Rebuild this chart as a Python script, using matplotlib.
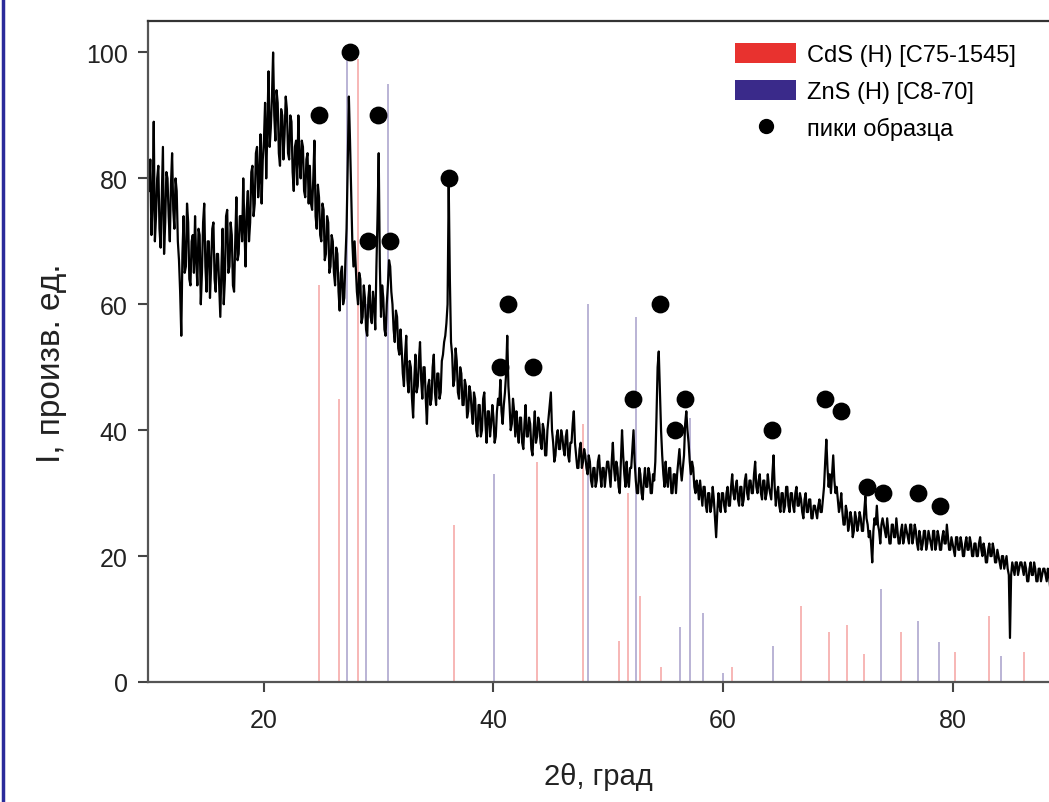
import numpy as np
import matplotlib.pyplot as plt
from matplotlib.patches import Patch
from matplotlib.lines import Line2D

plt.rcParams['font.family'] = ['Liberation Sans', 'DejaVu Sans']

# measured pattern, 2theta from 10.0 with 0.1 deg step (20 values per row = 2 deg)
two_theta_start = 10.0
two_theta_step = 0.1
intensity = [
    78, 83, 71, 76, 89, 70, 74, 80, 82, 72, 69, 77, 85, 68, 73, 81, 80, 74, 70, 79,
    84, 75, 72, 80, 78, 70, 67, 62, 55, 68, 74, 65, 66, 76, 73, 64, 63, 70, 71, 65,
    74, 67, 63, 72, 71, 60, 65, 73, 76, 66, 62, 70, 70, 61, 66, 72, 73, 64, 62, 68,
    68, 63, 58, 66, 72, 60, 64, 74, 75, 65, 66, 73, 71, 63, 62, 70, 77, 67, 68, 74,
    74, 70, 80, 72, 66, 75, 78, 70, 73, 81, 82, 74, 76, 84, 85, 77, 80, 87, 76, 83,
    86, 92, 80, 88, 97, 85, 88, 93, 100, 90, 86, 94, 92, 84, 82, 91, 90, 83, 87, 93,
    91, 84, 83, 90, 89, 81, 78, 85, 86, 79, 90, 83, 80, 86, 85, 78, 77, 83, 84, 76,
    82, 76, 75, 80, 86, 74, 72, 79, 77, 71, 70, 76, 75, 67, 68, 74, 73, 65, 66, 71,
    70, 65, 63, 69, 68, 62, 59, 65, 66, 60, 61, 67, 72, 82, 93, 86, 78, 70, 66, 70,
    66, 62, 60, 65, 64, 57, 58, 63, 61, 56, 55, 61, 63, 58, 57, 62, 60, 56, 66, 74,
    84, 66, 58, 63, 61, 56, 55, 60, 63, 67, 66, 62, 60, 56, 54, 59, 58, 53, 52, 56,
    53, 49, 47, 52, 55, 48, 46, 51, 50, 45, 42, 48, 52, 46, 47, 51, 54, 48, 45, 50,
    50, 45, 41, 47, 48, 44, 45, 50, 52, 46, 44, 49, 49, 45, 46, 51, 52, 54, 55, 57,
    60, 79, 64, 54, 52, 47, 48, 53, 51, 46, 45, 50, 49, 44, 44, 48, 47, 42, 43, 47,
    46, 43, 41, 46, 45, 40, 39, 44, 44, 39, 40, 45, 46, 41, 38, 43, 43, 39, 41, 44,
    42, 38, 39, 43, 45, 44, 48, 43, 41, 44, 46, 49, 55, 47, 44, 40, 41, 45, 43, 39,
    43, 40, 38, 42, 42, 38, 37, 41, 44, 39, 39, 42, 41, 37, 36, 40, 43, 38, 39, 42,
    41, 38, 37, 41, 40, 36, 36, 40, 42, 44, 46, 40, 38, 35, 36, 39, 40, 37, 37, 40,
    39, 37, 36, 39, 40, 36, 35, 38, 38, 41, 43, 38, 36, 34, 34, 37, 38, 34, 35, 37,
    36, 34, 33, 36, 35, 32, 31, 34, 34, 31, 32, 35, 36, 33, 31, 34, 34, 31, 33, 35,
    35, 33, 31, 35, 38, 34, 32, 35, 34, 31, 30, 35, 40, 36, 33, 31, 35, 32, 31, 34,
    34, 37, 40, 35, 32, 30, 30, 34, 33, 30, 29, 32, 34, 31, 31, 34, 33, 30, 30, 33,
    32, 35, 42, 50, 52.5, 46, 40, 36, 33, 31, 35, 32, 31, 34, 34, 30, 30, 33, 33, 30,
    33, 35, 37, 34, 32, 34, 36, 41, 43, 40, 38, 35, 33, 35, 34, 31, 30, 32, 31, 29,
    32, 30, 28, 31, 31, 28, 27, 30, 30, 27, 28, 31, 29, 26, 23, 27, 30, 28, 27, 30,
    30, 28, 27, 30, 31, 28, 28, 31, 33, 30, 29, 31, 32, 29, 28, 31, 31, 28, 29, 32,
    33, 30, 29, 32, 32, 30, 30, 33, 35, 31, 30, 32, 33, 30, 29, 32, 32, 29, 30, 33,
    31, 30, 29, 33, 36, 31, 28, 30, 31, 28, 27, 30, 30, 27, 28, 31, 31, 28, 27, 30,
    30, 28, 27, 30, 31, 28, 28, 30, 29, 27, 26, 29, 30, 27, 27, 29, 29, 26, 26, 28,
    28, 27, 26, 28, 29, 27, 27, 29, 31, 35, 38.5, 34, 31, 33, 30, 33, 36, 32, 30, 31,
    29, 27, 28, 30, 27, 25, 25, 28, 27, 24, 25, 27, 26, 23, 24, 27, 26, 24, 25, 27,
    26, 24, 24, 27, 29.5, 26, 25, 23, 24, 22, 19, 24, 26, 25, 28, 25, 24, 22, 25, 26,
    25, 24, 23, 26, 24, 22, 22, 25, 25, 23, 23, 26, 24, 22, 22, 24, 25, 22, 23, 25,
    24, 23, 22, 25, 25, 22, 23, 25, 24, 22, 21, 24, 23, 21, 22, 24, 24, 21, 22, 24,
    23, 22, 21, 24, 24, 21, 22, 24, 23, 21, 21, 23, 24, 22, 22, 25, 23, 21, 21, 23,
    22, 21, 20, 23, 23, 21, 21, 23, 22, 20, 20, 22, 23, 21, 21, 23, 22, 20, 20, 22,
    22, 20, 20, 22, 23, 21, 20, 22, 21, 19, 19, 21, 22, 20, 20, 22, 21, 19, 19, 21,
    20, 19, 18, 20, 20, 18, 19, 20, 18, 17, 7, 17, 19, 18, 17, 19, 19, 17, 18, 19,
    19, 18, 17, 19, 18, 16, 16, 18, 19, 17, 17, 19, 18, 16, 16, 18, 18, 16, 17, 18,
    18, 17, 16, 18, 17, 15, 15, 17, 18, 16, 17,
]

# reference cards
cds_pos = [24.8, 26.5, 28.2, 36.6, 43.75, 47.8, 50.9, 51.7, 52.75, 54.6,
           60.8, 66.8, 69.2, 70.8, 72.3, 75.5, 80.2, 83.2, 86.2]
cds_int = [63, 45, 99, 25, 35, 41, 6.5, 30, 13.7, 2.4,
           2.4, 12, 8, 9, 4.4, 8, 4.7, 10.5, 4.7]
zns_pos = [27.25, 28.9, 30.8, 40.05, 48.2, 52.4, 56.25, 57.1, 58.25, 60.0,
           64.35, 73.8, 76.95, 78.8, 84.2]
zns_int = [100, 60, 95, 33, 60, 58, 8.7, 42, 11, 1.5,
           5.7, 14.8, 9.7, 6.3, 4.1]

# sample peak markers
peak_x = [24.8, 27.5, 29.95, 29.05, 30.95, 36.1, 41.3, 40.6, 43.45, 52.15,
          54.5, 55.85, 56.65, 64.3, 68.9, 70.25, 72.5, 73.9, 76.95, 78.9]
peak_y = [90, 100, 90, 70, 70, 80, 60, 50, 50, 45,
          60, 40, 45, 40, 45, 43, 31, 30, 30, 28]

cds_color = '#e8322f'
zns_color = '#3a2a8a'

two_theta = two_theta_start + two_theta_step * np.arange(len(intensity))

fig = plt.figure(figsize=(10.49, 8.03), dpi=100)
ax = fig.add_axes([148 / 1049, 1 - 683 / 803, 1 - 148 / 1049, (683 - 22) / 803])

ax.vlines(cds_pos, 0, cds_int, color=cds_color, lw=1.1, alpha=0.45, zorder=1)
ax.vlines(zns_pos, 0, zns_int, color=zns_color, lw=1.1, alpha=0.45, zorder=1)
ax.plot(two_theta, intensity, color='black', lw=1.6, zorder=2)
ax.scatter(peak_x, peak_y, s=140, color='black', zorder=3)

ax.set_xlim(9.9, 88.4)
ax.set_ylim(0, 105)
ax.set_xticks([20, 40, 60, 80])
ax.set_yticks([0, 20, 40, 60, 80, 100])

for side in ['left', 'bottom']:
    ax.spines[side].set_color('#555555')
    ax.spines[side].set_linewidth(1.6)
ax.spines['top'].set_color('#333333')
ax.spines['top'].set_linewidth(1.6)
ax.spines['right'].set_visible(False)
ax.tick_params(direction='out', length=7.5, width=1.5, color='#444444',
               labelsize=18, labelcolor='#222222')
ax.tick_params(axis='x', pad=11)
ax.tick_params(axis='y', pad=7)

ax.set_xlabel('2θ, град', fontsize=21, labelpad=22, color='#222222')
ax.set_ylabel('I, произв. ед.', fontsize=24, color='#222222')
ax.yaxis.set_label_coords(-0.09, 0.484)

handles = [Patch(facecolor=cds_color, edgecolor='none'),
           Patch(facecolor=zns_color, edgecolor='none'),
           Line2D([], [], marker='o', ls='none', color='black', markersize=10)]
labels = ['CdS (H) [C75-1545]', 'ZnS (H) [C8-70]', 'пики образца']
ax.legend(handles, labels, loc='upper left', bbox_to_anchor=(735 / 1049, 1 - 44 / 803),
          bbox_transform=fig.transFigure, frameon=False, fontsize=17,
          handlelength=2.6, handleheight=0.9, handletextpad=0.45,
          labelspacing=0.6, borderaxespad=0, borderpad=0)

# blue frame edge on the left
fig.add_artist(Line2D([3 / 1049, 3 / 1049], [0, 1], color='#2b2b9a', lw=2.5,
                      transform=fig.transFigure))

fig.savefig('out.png', dpi=100)
